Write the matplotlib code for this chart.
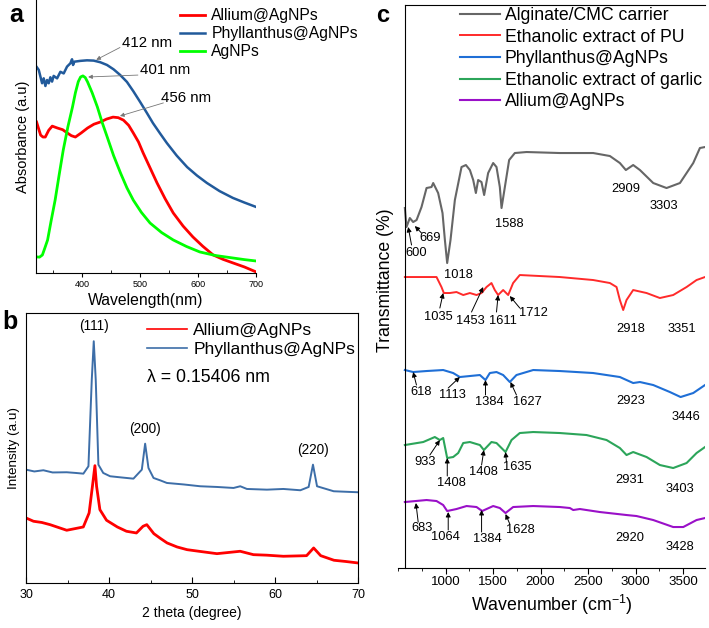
import matplotlib
matplotlib.use("Agg")
import matplotlib.pyplot as plt
from matplotlib.ticker import MultipleLocator

plt.rcParams['font.family'] = ['Liberation Sans', 'DejaVu Sans']
plt.rcParams['mathtext.default'] = 'regular'

# ---------------- panel a: UV-vis ----------------
uv_allium_x = [321, 325, 328, 332, 336, 342, 348, 357, 366, 374, 381, 388, 398, 409, 420, 431, 442, 453,
               462, 471, 480, 488, 497, 505, 517, 529, 543, 557, 574, 591, 608, 626, 643, 660, 680, 700]
uv_allium_y = [0.553, 0.525, 0.505, 0.498, 0.498, 0.523, 0.538, 0.531, 0.525, 0.513, 0.503, 0.498,
               0.513, 0.531, 0.545, 0.553, 0.564, 0.571, 0.569, 0.56, 0.541, 0.513, 0.48, 0.44,
               0.385, 0.33, 0.272, 0.22, 0.172, 0.132, 0.098, 0.066, 0.05, 0.037, 0.022, 0.004]
uv_phyl_x = [321, 324.7, 330.5, 333.3, 336.2, 339.1, 341.9, 344.8, 347.7, 350.5, 356.4, 362.1, 367.8,
             373.6, 379.3, 382.2, 384, 386.2, 396.6, 408, 419.5, 431, 442.6, 454, 465.5, 477, 488, 500,
             511, 522, 534, 546, 563, 581, 598, 615, 637, 660, 680, 700]
uv_phyl_y = [0.755, 0.744, 0.695, 0.713, 0.685, 0.707, 0.695, 0.717, 0.701, 0.722, 0.713, 0.737, 0.731,
             0.756, 0.768, 0.783, 0.762, 0.774, 0.777, 0.779, 0.778, 0.772, 0.762, 0.746, 0.725, 0.70,
             0.666, 0.626, 0.588, 0.549, 0.512, 0.476, 0.43, 0.388, 0.357, 0.33, 0.3, 0.275, 0.258, 0.242]
uv_ag_x = [321, 326, 331, 335, 340, 346, 353, 360, 367, 375, 383, 388, 393, 397, 401, 405, 409, 417,
           426, 434, 443, 454, 466, 477, 488, 502, 517, 537, 557, 580, 603, 630, 660, 680, 700]
uv_ag_y = [0.059, 0.058, 0.066, 0.09, 0.121, 0.19, 0.267, 0.36, 0.45, 0.535, 0.608, 0.66, 0.701, 0.718,
           0.722, 0.716, 0.70, 0.66, 0.608, 0.553, 0.498, 0.43, 0.366, 0.312, 0.267, 0.222, 0.183,
           0.148, 0.121, 0.097, 0.077, 0.064, 0.055, 0.049, 0.044]
uv_peak_text = [("412 nm", 469, 0.842), ("401 nm", 500, 0.744), ("456 nm", 536, 0.641)]
uv_peak_arrows = [((465, 0.826), (424, 0.781)), ((496, 0.725), (410, 0.718)), ((540, 0.623), (465, 0.575))]

# ---------------- panel b: XRD ----------------
xrd_phyl_x = [30, 31.0, 32.09, 33.2, 34.9, 36.0, 36.91, 37.52, 37.92, 38.16, 38.40, 38.72, 39.3, 40.13,
              41.5, 42.94, 43.95, 44.35, 44.75, 45.36, 46.2, 46.97, 49.0, 50.98, 53.0, 55.0, 55.81,
              56.61, 59.02, 61.0, 63.05, 64.05, 64.57, 65.06, 67.07, 70]
xrd_phyl_y = [113.3, 111.5, 112.7, 110.5, 110.7, 110.0, 109.3, 116.7, 203, 241.7, 203, 118.3, 110.0,
              106.7, 105.5, 104.3, 113.3, 139.3, 115, 105, 102.5, 100, 98.5, 96.7, 96.0, 95, 96.7,
              94, 93.3, 94.0, 92.7, 96, 118.3, 96.7, 91.7, 90.7]
xrd_all_x = [30, 30.9, 31.9, 32.9, 33.9, 34.9, 36.0, 36.9, 37.6, 38.0, 38.3, 38.5, 38.9, 39.7, 41.0,
             42.1, 43.3, 44.1, 44.55, 45.4, 46.2, 47.0, 48.2, 49.4, 51.0, 53.0, 55.8, 57.4, 59.0, 61.0,
             63.8, 64.65, 65.5, 67.1, 68.5, 70]
xrd_all_y = [65, 61.7, 60.5, 58.3, 55.5, 52.7, 54.5, 56, 70, 96.7, 117.3, 96.7, 73.3, 62.7, 56.0,
             51.7, 50, 56.7, 58.3, 49.3, 44.5, 40, 36.0, 33.3, 31.5, 29.3, 31.7, 28.3, 27.8, 26.7,
             27.3, 35, 27.3, 22.7, 21.5, 20]
hkl_labels = ["(111)", "(200)", "(220)"]
hkl_pos = [38.16, 44.35, 64.57]

# ---------------- panel c: FTIR ----------------
ft_carrier_x = [572, 589, 624, 659, 695, 747, 800, 852, 870, 922, 968, 993, 1017, 1052, 1098, 1168,
                1214, 1256, 1291, 1319, 1343, 1378, 1406, 1448, 1501, 1536, 1571, 1589, 1624, 1669,
                1729, 1852, 2202, 2553, 2729, 2834, 2897, 2974, 3045, 3185, 3325, 3466, 3606, 3676, 3730]
ft_carrier_y = [360, 341, 350, 346, 348, 361, 380, 381, 385, 375, 355, 328, 305, 328, 368, 401,
                403, 398, 388, 375, 388, 386, 373, 395, 405, 401, 381, 360, 381, 408,
                415, 416, 415, 415, 412, 405, 398, 403, 398, 385, 380, 385, 405, 420, 421]
ft_pu_x = [572, 905, 957, 982, 1045, 1115, 1186, 1256, 1326, 1378, 1431, 1483, 1518, 1553, 1606,
           1659, 1711, 1781, 2202, 2553, 2729, 2799, 2834, 2869, 2904, 2974, 3115, 3255, 3395,
           3536, 3641, 3730]
ft_pu_y = [291, 291, 281, 275, 275, 276, 273, 275, 273, 275, 281, 285, 278, 273, 278,
           273, 285, 293, 291, 288, 285, 281, 268, 258, 268, 278, 275, 270, 273,
           281, 288, 291]
ft_phyl_x = [572, 659, 800, 975, 1080, 1150, 1256, 1361, 1420, 1466, 1536, 1606, 1676, 1746, 1922,
             2202, 2553, 2834, 2974, 3045, 3185, 3360, 3473, 3606, 3730]
ft_phyl_y = [198, 196, 197, 198, 195, 191, 192, 193, 188, 195, 196, 193, 186, 193, 198,
             197, 195, 191, 185, 186, 183, 176, 171, 175, 183]
ft_garlic_x = [572, 765, 887, 940, 975, 1017, 1080, 1133, 1186, 1256, 1361, 1403, 1483, 1536, 1631,
               1694, 1781, 1922, 2202, 2483, 2694, 2834, 2904, 2974, 3115, 3255, 3395, 3536, 3641, 3730]
ft_garlic_y = [123, 126, 131, 128, 130, 110, 111, 115, 125, 126, 123, 118, 126, 125, 116,
               128, 135, 136, 135, 133, 128, 120, 113, 116, 111, 103, 100, 105, 115, 121]
ft_allium_x = [572, 800, 905, 975, 1017, 1115, 1221, 1326, 1385, 1501, 1571, 1631, 1711, 1922, 2202,
               2308, 2343, 2413, 2623, 2904, 3009, 3185, 3395, 3501, 3641, 3730]
ft_allium_y = [66, 68, 67, 63, 57, 59, 62, 61, 57, 62, 60, 55, 61, 62, 61,
               60, 58, 59, 56, 53, 52, 48, 41, 41, 48, 50]

# band labels: (text, text x, text y) and arrows (tail, tip)
band_text = [("600", 687, 315), ("669", 842, 330), ("1018", 1140, 293), ("1588", 1669, 344),
             ("2909", 2893, 379), ("3303", 3297, 362),
             ("1035", 922, 251), ("1453", 1256, 247), ("1611", 1606, 247), ("1712", 1929, 255),
             ("2918", 2946, 239), ("3351", 3483, 239),
             ("618", 740, 176), ("1113", 1070, 173), ("1384", 1456, 166), ("1627", 1859, 166),
             ("2923", 2946, 167), ("3446", 3525, 151),
             ("933", 789, 106), ("1408", 1067, 85), ("1408", 1400, 96), ("1635", 1757, 101),
             ("2931", 2939, 88), ("3403", 3465, 79),
             ("683", 751, 40), ("1064", 1003, 31), ("1384", 1435, 29), ("1628", 1782, 38),
             ("2920", 2943, 30), ("3428", 3462, 21)]
band_arrows = [((642, 323), (607, 341)), ((747, 335), (677, 342)),
               ((940, 260), (975, 275)), ((1273, 256), (1396, 281)), ((1536, 256), (1553, 273)),
               ((1781, 260), (1676, 272)),
               ((694, 183), (659, 196)), ((1028, 180), (1150, 191)), ((1420, 173), (1420, 188)),
               ((1746, 173), (1683, 186)),
               ((835, 113), (940, 128)), ((1018, 92), (1018, 110)), ((1379, 103), (1403, 118)),
               ((1641, 106), (1631, 116)),
               ((712, 46), (688, 65)), ((1028, 38), (1028, 56)), ((1379, 36), (1379, 58)),
               ((1676, 44), (1631, 54))]

fig = plt.figure(figsize=(7.09, 6.28), dpi=100)

# ---- a ----
ax_a = fig.add_axes([0.0508, 0.5653, 0.3103, 0.4347])
ax_a.plot(uv_allium_x, uv_allium_y, color='#ff0000', lw=2, label='Allium@AgNPs')
ax_a.plot(uv_phyl_x, uv_phyl_y, color='#215a9b', lw=1.8, label='Phyllanthus@AgNPs')
ax_a.plot(uv_ag_x, uv_ag_y, color='#00ff00', lw=2, label='AgNPs')
ax_a.set_xlim(320, 700)
ax_a.set_ylim(0, 1)
ax_a.spines['top'].set_visible(False)
ax_a.spines['right'].set_visible(False)
ax_a.set_yticks([])
ax_a.xaxis.set_major_locator(MultipleLocator(100))
ax_a.xaxis.set_minor_locator(MultipleLocator(50))
ax_a.tick_params(axis='x', which='major', labelsize=6.5, length=3, direction='out', pad=2)
ax_a.tick_params(axis='x', which='minor', length=2, direction='in')
ax_a.set_xlabel('Wavelength(nm)', fontsize=11.3, labelpad=3)
ax_a.set_ylabel('Absorbance (a.u)', fontsize=10.5, labelpad=4)
for txt, tx, ty in uv_peak_text:
    ax_a.text(tx, ty, txt, fontsize=10.8, ha='left', va='center')
for tail, tip in uv_peak_arrows:
    ax_a.annotate('', xy=tip, xytext=tail,
                  arrowprops=dict(arrowstyle='-|>', color='#777777', lw=0.6, mutation_scale=6,
                                  shrinkA=0, shrinkB=0))
ax_a.legend(loc='upper left', bbox_to_anchor=(180 / 709, 1 - 8 / 628), bbox_transform=fig.transFigure,
            frameon=False, fontsize=11.3, handlelength=1.6, handletextpad=0.4, labelspacing=0.2,
            borderpad=0, borderaxespad=0)

# ---- b ----
ax_b = fig.add_axes([0.0367, 0.0717, 0.4683, 0.43])
ax_b.plot(xrd_all_x, xrd_all_y, color='#ff0000', lw=2.0, label='Allium@AgNPs')
ax_b.plot(xrd_phyl_x, xrd_phyl_y, color='#3d6ea8', lw=1.4, label='Phyllanthus@AgNPs')
ax_b.set_xlim(30, 70)
ax_b.set_ylim(0, 270)
ax_b.set_yticks([])
ax_b.xaxis.set_major_locator(MultipleLocator(10))
ax_b.xaxis.set_minor_locator(MultipleLocator(5))
ax_b.tick_params(axis='x', which='major', labelsize=9, length=4, direction='in', pad=4)
ax_b.tick_params(axis='x', which='minor', length=2.5, direction='in')
ax_b.set_xlabel('2 theta (degree)', fontsize=10, labelpad=4)
ax_b.set_ylabel('Intensity (a.u)', fontsize=9.7, labelpad=4)
for lab, xx, yy in zip(hkl_labels, hkl_pos, [241.7, 139.3, 118.3]):
    ax_b.text(xx, yy + 8, lab, fontsize=9.8, ha='center', va='bottom')
ax_b.text(147 / 709, 1 - 377 / 628, 'λ = 0.15406 nm', transform=fig.transFigure, fontsize=12.8,
          ha='left', va='center')
leg_b = ax_b.legend(loc='upper left', bbox_to_anchor=(147 / 709, 1 - 323 / 628),
                    bbox_transform=fig.transFigure, frameon=False, fontsize=12.6, handlelength=2.3,
                    handletextpad=0.35, labelspacing=0.2, borderpad=0, borderaxespad=0)
for h in leg_b.get_lines():
    h.set_linewidth(1.2)

# ---- c ----
ax_c = fig.add_axes([0.5614, 0.0955, 0.433, 0.8965])
ax_c.plot(ft_carrier_x, ft_carrier_y, color='#666666', lw=1.5, label='Alginate/CMC carrier')
ax_c.plot(ft_pu_x, ft_pu_y, color='#ff2a2a', lw=1.4, label='Ethanolic extract of PU')
ax_c.plot(ft_phyl_x, ft_phyl_y, color='#1f6fd6', lw=1.5, label='Phyllanthus@AgNPs')
ax_c.plot(ft_garlic_x, ft_garlic_y, color='#2ca55a', lw=1.5, label='Ethanolic extract of garlic')
ax_c.plot(ft_allium_x, ft_allium_y, color='#9a10c8', lw=1.5, label='Allium@AgNPs')
ax_c.set_xlim(500, 3730)
ax_c.set_ylim(0, 563)
ax_c.spines['right'].set_visible(False)
ax_c.spines['left'].set_position(('data', 572))
ax_c.spines['top'].set_bounds(572, 3730)
ax_c.set_yticks([])
ax_c.xaxis.set_minor_locator(MultipleLocator(250))
ax_c.set_xticks([1000, 1500, 2000, 2500, 3000, 3500])
ax_c.tick_params(axis='x', which='major', labelsize=9.6, length=4, direction='out', pad=2)
ax_c.tick_params(axis='x', which='minor', length=2.5, direction='out')
ax_c.set_xlabel('Wavenumber (cm$^{-1}$)', fontsize=12.8, labelpad=3)
fig.text(385 / 709, 1 - 280 / 628, 'Transmittance (%)', rotation=90, fontsize=12.7,
         ha='center', va='center')
for txt, xx, yy in band_text:
    ax_c.text(xx, yy, txt, fontsize=9.3, ha='center', va='center')
for tail, tip in band_arrows:
    ax_c.annotate('', xy=tip, xytext=tail,
                  arrowprops=dict(arrowstyle='-|>', color='k', lw=0.7, mutation_scale=7,
                                  shrinkA=0, shrinkB=0))
ax_c.legend(loc='upper left', bbox_to_anchor=(460 / 709, 1 - 7 / 628), bbox_transform=fig.transFigure,
            frameon=False, fontsize=12.7, handlelength=2.26, handletextpad=0.28, labelspacing=0.26,
            borderpad=0, borderaxespad=0)

# panel letters
fig.text(16 / 709, 1 - 15 / 628, 'a', fontsize=18, fontweight='bold', ha='center', va='center')
fig.text(10 / 709, 1 - 322 / 628, 'b', fontsize=18, fontweight='bold', ha='center', va='center')
fig.text(383 / 709, 1 - 15 / 628, 'c', fontsize=17, fontweight='bold', ha='center', va='center')

fig.savefig('out.png', dpi=100)
